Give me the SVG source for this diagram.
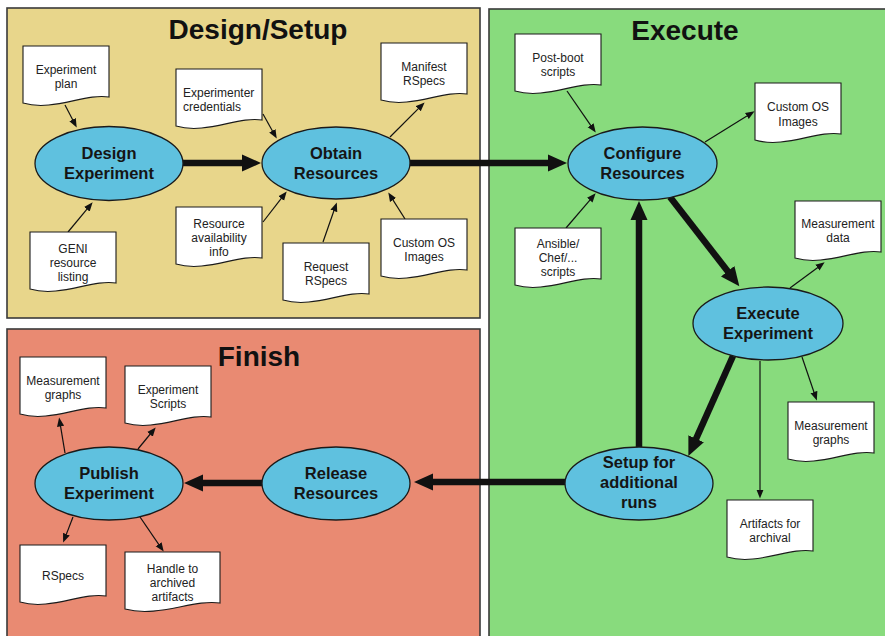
<svg xmlns="http://www.w3.org/2000/svg" width="885" height="636" viewBox="0 0 885 636">
  <style>
    .panel { stroke: #3a3a3a; stroke-width: 1.6; }
    .title { font-family: "Liberation Sans", Arial, sans-serif; font-weight: bold; font-size: 28px; fill: #111; text-anchor: middle; }
    .proc { fill: #5fc1df; stroke: #1a1a1a; stroke-width: 1.3; }
    .ptxt { font-family: "Liberation Sans", Arial, sans-serif; font-weight: bold; font-size: 16.5px; fill: #151515; text-anchor: middle; }
    .doc { fill: #ffffff; stroke: #1a1a1a; stroke-width: 1.1; }
    .dtxt { font-family: "Liberation Sans", Arial, sans-serif; font-size: 12px; fill: #222; text-anchor: middle; }
    .thick { stroke: #111; stroke-width: 6.5; fill: none; marker-end: url(#bigHead); }
    .thin { stroke: #111; stroke-width: 1.2; fill: none; marker-end: url(#smallHead); }
  </style>
  <defs>
    <marker id="bigHead" viewBox="0 -9 20 18" markerUnits="userSpaceOnUse" markerWidth="20" markerHeight="18" refX="1" refY="0" orient="auto">
      <path d="M0,-8.5 L19,0 L0,8.5 z" fill="#111"/>
    </marker>
    <marker id="smallHead" viewBox="0 -4 10 8" markerUnits="userSpaceOnUse" markerWidth="10" markerHeight="8" refX="0.5" refY="0" orient="auto">
      <path d="M0,-3.6 L9,0 L0,3.6 z" fill="#111"/>
    </marker>
    <!-- paper sheet with a wavy lower edge, 86 wide -->
    <path id="sheet" d="M0,0 H86 V51 C62,47 30,66 0,57 Z"/>
    <path id="sheetWide" d="M0,0 H95 V51 C68,47 33,66 0,57 Z"/>
  </defs>

  <!-- stage panels -->
  <g id="panels">
    <rect class="panel" x="7" y="8" width="473" height="310" fill="#e8d68b"/>
    <rect class="panel" x="7" y="329" width="473" height="320" fill="#e98a72"/>
    <rect class="panel" x="489" y="9" width="410" height="640" fill="#88db7d"/>
    <text class="title" x="258" y="39">Design/Setup</text>
    <text class="title" x="685" y="40">Execute</text>
    <text class="title" x="259" y="366">Finish</text>
  </g>

  <!-- connectors -->
  <g id="connectors">
    <line class="thick" x1="183" y1="163" x2="243" y2="163"/>
    <line class="thick" x1="410" y1="163" x2="549" y2="163"/>
    <line class="thick" x1="670" y1="197" x2="728.3" y2="272"/>
    <line class="thick" x1="733" y1="356" x2="695.7" y2="439.6"/>
    <line class="thick" x1="639" y1="447" x2="639" y2="219"/>
    <line class="thick" x1="565" y1="482" x2="432" y2="482"/>
    <line class="thick" x1="262" y1="483" x2="202" y2="483"/>

    <line class="thin" x1="65" y1="105" x2="72.8" y2="120"/>
    <line class="thin" x1="68" y1="232" x2="87.2" y2="208.9"/>
    <line class="thin" x1="263" y1="114" x2="272.6" y2="131.2"/>
    <line class="thin" x1="263" y1="222" x2="281.5" y2="198.1"/>
    <line class="thin" x1="323" y1="242" x2="334" y2="210.5"/>
    <line class="thin" x1="405" y1="219" x2="392.8" y2="199.6"/>
    <line class="thin" x1="390" y1="137" x2="418.6" y2="108.4"/>

    <line class="thin" x1="567" y1="91" x2="590.9" y2="125.6"/>
    <line class="thin" x1="566" y1="228" x2="590.1" y2="199.8"/>
    <line class="thin" x1="705" y1="142" x2="747.3" y2="115.7"/>
    <line class="thin" x1="790" y1="288" x2="817.8" y2="267.4"/>
    <line class="thin" x1="802" y1="357" x2="814.1" y2="392.5"/>
    <line class="thin" x1="760" y1="361" x2="760" y2="490"/>

    <line class="thin" x1="65" y1="453" x2="60.5" y2="425.9"/>
    <line class="thin" x1="138" y1="449" x2="150.3" y2="434"/>
    <line class="thin" x1="73" y1="517" x2="66.2" y2="534.6"/>
    <line class="thin" x1="140" y1="517" x2="158.9" y2="544.6"/>
  </g>

  <!-- process steps -->
  <g id="design-experiment">
    <ellipse class="proc" cx="109" cy="163.5" rx="74" ry="37"/>
    <text class="ptxt" x="109" y="159">Design</text>
    <text class="ptxt" x="109" y="179">Experiment</text>
  </g>
  <g id="obtain-resources">
    <ellipse class="proc" cx="336" cy="163" rx="74" ry="36"/>
    <text class="ptxt" x="336" y="159">Obtain</text>
    <text class="ptxt" x="336" y="179">Resources</text>
  </g>
  <g id="configure-resources">
    <ellipse class="proc" cx="642.5" cy="163.5" rx="74.5" ry="36.5"/>
    <text class="ptxt" x="642.5" y="159">Configure</text>
    <text class="ptxt" x="642.5" y="179">Resources</text>
  </g>
  <g id="execute-experiment">
    <ellipse class="proc" cx="768" cy="323.5" rx="75" ry="36.5"/>
    <text class="ptxt" x="768" y="319">Execute</text>
    <text class="ptxt" x="768" y="339">Experiment</text>
  </g>
  <g id="setup-additional-runs">
    <ellipse class="proc" cx="639" cy="483.5" rx="74" ry="36.5"/>
    <text class="ptxt" x="639" y="468">Setup for</text>
    <text class="ptxt" x="639" y="488">additional</text>
    <text class="ptxt" x="639" y="508">runs</text>
  </g>
  <g id="release-resources">
    <ellipse class="proc" cx="336" cy="483.5" rx="74" ry="36.5"/>
    <text class="ptxt" x="336" y="479">Release</text>
    <text class="ptxt" x="336" y="499">Resources</text>
  </g>
  <g id="publish-experiment">
    <ellipse class="proc" cx="109" cy="483.5" rx="74" ry="36.5"/>
    <text class="ptxt" x="109" y="479">Publish</text>
    <text class="ptxt" x="109" y="499">Experiment</text>
  </g>

  <!-- artifacts: Design/Setup -->
  <g id="doc-experiment-plan" transform="translate(23,46)">
    <use href="#sheet" class="doc"/>
    <text class="dtxt" x="43" y="27.5">Experiment</text>
    <text class="dtxt" x="43" y="41.5">plan</text>
  </g>
  <g id="doc-geni-listing" transform="translate(30,232)">
    <use href="#sheet" class="doc"/>
    <text class="dtxt" x="43" y="21">GENI</text>
    <text class="dtxt" x="43" y="35">resource</text>
    <text class="dtxt" x="43" y="49">listing</text>
  </g>
  <g id="doc-credentials" transform="translate(176,69)">
    <use href="#sheet" class="doc"/>
    <text class="dtxt" x="7" y="28" style="text-anchor:start">Experimenter</text>
    <text class="dtxt" x="7" y="42" style="text-anchor:start">credentials</text>
  </g>
  <g id="doc-availability" transform="translate(176,207)">
    <use href="#sheet" class="doc"/>
    <text class="dtxt" x="43" y="20.5">Resource</text>
    <text class="dtxt" x="43" y="35">availability</text>
    <text class="dtxt" x="43" y="48.5">info</text>
  </g>
  <g id="doc-request-rspecs" transform="translate(283,243)">
    <use href="#sheet" class="doc"/>
    <text class="dtxt" x="43" y="27.5">Request</text>
    <text class="dtxt" x="43" y="41.5">RSpecs</text>
  </g>
  <g id="doc-custom-os-design" transform="translate(381,219)">
    <use href="#sheet" class="doc"/>
    <text class="dtxt" x="43" y="27.5">Custom OS</text>
    <text class="dtxt" x="43" y="42">Images</text>
  </g>
  <g id="doc-manifest-rspecs" transform="translate(381,43)">
    <use href="#sheet" class="doc"/>
    <text class="dtxt" x="43" y="28">Manifest</text>
    <text class="dtxt" x="43" y="42">RSpecs</text>
  </g>

  <!-- artifacts: Execute -->
  <g id="doc-post-boot" transform="translate(515,34)">
    <use href="#sheet" class="doc"/>
    <text class="dtxt" x="43" y="28">Post-boot</text>
    <text class="dtxt" x="43" y="42">scripts</text>
  </g>
  <g id="doc-ansible" transform="translate(515,228)">
    <use href="#sheet" class="doc"/>
    <text class="dtxt" x="43" y="19.5">Ansible/</text>
    <text class="dtxt" x="43" y="33.5">Chef/...</text>
    <text class="dtxt" x="43" y="47.5">scripts</text>
  </g>
  <g id="doc-custom-os-execute" transform="translate(755,83)">
    <use href="#sheet" class="doc"/>
    <text class="dtxt" x="43" y="28">Custom OS</text>
    <text class="dtxt" x="43" y="43">Images</text>
  </g>
  <g id="doc-measurement-data" transform="translate(795,201)">
    <use href="#sheet" class="doc"/>
    <text class="dtxt" x="43" y="27">Measurement</text>
    <text class="dtxt" x="43" y="41">data</text>
  </g>
  <g id="doc-measurement-graphs-execute" transform="translate(788,402)">
    <use href="#sheet" class="doc"/>
    <text class="dtxt" x="43" y="27.5">Measurement</text>
    <text class="dtxt" x="43" y="42">graphs</text>
  </g>
  <g id="doc-artifacts-archival" transform="translate(727,500)">
    <use href="#sheet" class="doc"/>
    <text class="dtxt" x="43" y="27.5">Artifacts for</text>
    <text class="dtxt" x="43" y="42">archival</text>
  </g>

  <!-- artifacts: Finish -->
  <g id="doc-measurement-graphs-finish" transform="translate(20,357)">
    <use href="#sheet" class="doc"/>
    <text class="dtxt" x="43" y="28">Measurement</text>
    <text class="dtxt" x="43" y="42">graphs</text>
  </g>
  <g id="doc-experiment-scripts" transform="translate(125,366)">
    <use href="#sheet" class="doc"/>
    <text class="dtxt" x="43" y="27.5">Experiment</text>
    <text class="dtxt" x="43" y="41.5">Scripts</text>
  </g>
  <g id="doc-rspecs" transform="translate(20,545)">
    <use href="#sheet" class="doc"/>
    <text class="dtxt" x="43" y="35">RSpecs</text>
  </g>
  <g id="doc-archive-handle" transform="translate(125,552)">
    <use href="#sheetWide" class="doc"/>
    <text class="dtxt" x="47.5" y="21">Handle to</text>
    <text class="dtxt" x="47.5" y="35">archived</text>
    <text class="dtxt" x="47.5" y="49">artifacts</text>
  </g>
</svg>
